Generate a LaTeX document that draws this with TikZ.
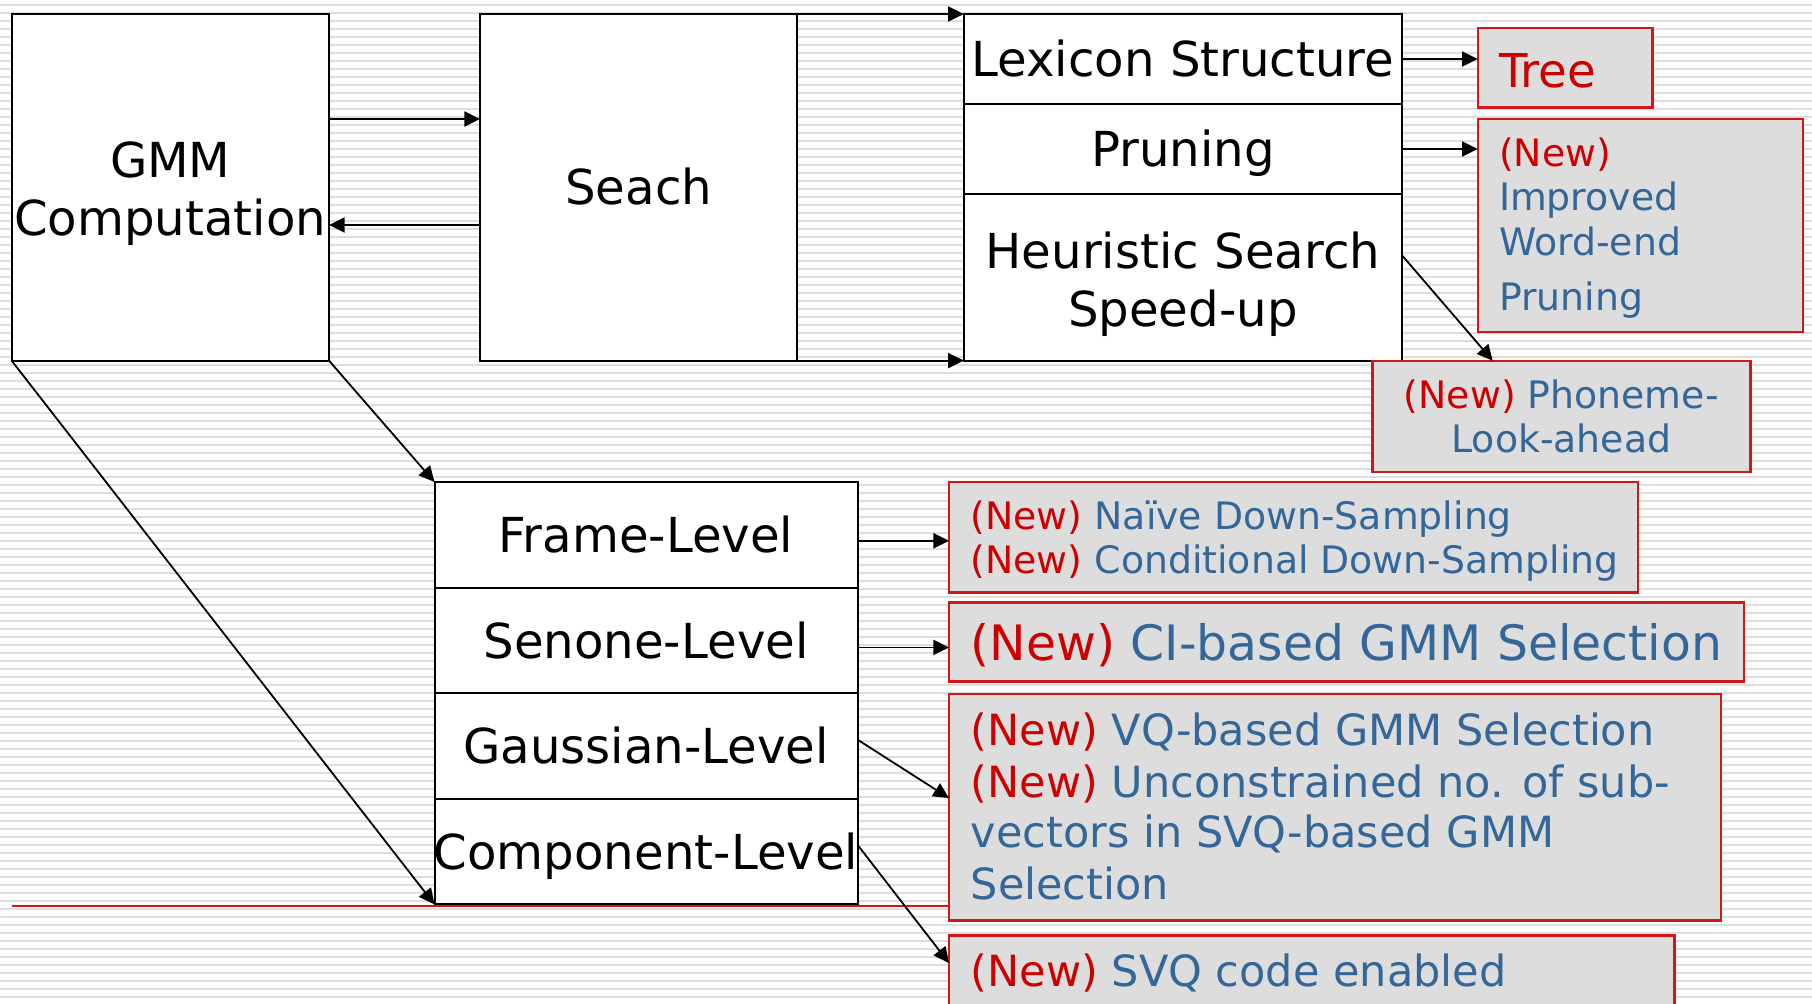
\documentclass[tikz,border=0pt]{standalone}
\usepackage{fontspec}
\setmainfont{DejaVu Sans}
\usetikzlibrary{arrows.meta}
\definecolor{boxred}{RGB}{208,24,24}
\definecolor{txtred}{RGB}{204,0,0}
\definecolor{txtblue}{RGB}{51,102,153}
\definecolor{boxgray}{RGB}{221,221,221}
\definecolor{stripegray}{RGB}{222,222,222}
\newcommand{\nw}{\textcolor{txtred}{(New)}}
\begin{document}
\begin{tikzpicture}[x=0.5pt,y=-0.5pt,
  blk/.style={draw=black, fill=white, line width=1pt, inner sep=0pt, outer sep=0pt, anchor=north west},
  btxt/.style={anchor=base, inner sep=0pt, outer sep=0pt, font=\fontsize{24.1}{29}\selectfont},
  nbox/.style={draw=boxred, fill=boxgray, line width=1.2pt, inner sep=0pt, outer sep=0pt, anchor=north west},
  tl/.style={anchor=base west, inner sep=0pt, outer sep=0pt, text=txtblue},
  tc/.style={anchor=base, inner sep=0pt, outer sep=0pt, text=txtblue},
  arr/.style={line width=0.9pt, -{Triangle[length=7.8pt,width=7.5pt]}},
  stripe/.style={line width=1pt, draw=stripegray},
  redline/.style={line width=0.8pt, draw=boxred}]
\useasboundingbox (0,0) rectangle (1812,1003);
\clip (0,0) rectangle (1812,1003);
\fill[white] (0,0) rectangle (1812,1003);
\foreach \y in {5,13,...,1003} \draw[stripe] (0,\y) -- (1812,\y);

% red rule
\coordinate (rl) at (11.6,906);

% black boxes
\node[blk, minimum width=158.7pt, minimum height=173.3pt] (gmm) at (11.6,14) {};
\node[blk, minimum width=158.7pt, minimum height=173.3pt] (seach) at (480,14) {};
\node[blk, minimum width=219.1pt, minimum height=45pt] (lex) at (963.8,14) {};
\node[blk, minimum width=219.1pt, minimum height=45pt] (prun) at (963.8,104) {};
\node[blk, minimum width=219.1pt, minimum height=83.3pt] (heur) at (963.8,194) {};

\node[blk, minimum width=211.5pt, minimum height=52.8pt] (frame) at (434.5,482) {};
\node[blk, minimum width=211.5pt, minimum height=52.8pt] (senone) at (434.5,587.6) {};
\node[blk, minimum width=211.5pt, minimum height=52.8pt] (gauss) at (434.5,693.2) {};
\node[blk, minimum width=211.5pt, minimum height=52.8pt] (comp) at (434.5,798.8) {};

% texts in black boxes
\node[btxt] (gmmt1) at ([yshift=5.15pt]gmm.center) {GMM};
\node[btxt] (gmmt2) at ([yshift=-23.85pt]gmm.center) {Computation};
\node[btxt] (seacht) at ([yshift=-8.8pt]seach.center) {Seach};
\node[btxt] (lext) at ([yshift=-8.8pt]lex.center) {Lexicon Structure};
\node[btxt] (prunt) at ([yshift=-8.8pt]prun.center) {Pruning};
\node[btxt] (heurt1) at ([yshift=4.65pt]heur.center) {Heuristic Search};
\node[btxt] (heurt2) at ([yshift=-24.35pt]heur.center) {Speed-up};
\node[btxt] (framet) at ([yshift=-8.8pt]frame.center) {Frame-Level};
\node[btxt] (senonet) at ([yshift=-8.8pt]senone.center) {Senone-Level};
\node[btxt] (gausst) at ([yshift=-8.8pt]gauss.center) {Gaussian-Level};
\node[btxt] (compt) at ([yshift=-8.8pt]comp.center) {Component-Level};

% gray boxes
\node[nbox, minimum width=87.4pt, minimum height=39.65pt] (tree) at (1477.7,28) {};
\node[nbox, minimum width=162.5pt, minimum height=106.5pt] (pnew) at (1477.7,119) {};
\node[nbox, minimum width=189pt, minimum height=55.5pt] (phon) at (1372.3,360.7) {};
\node[nbox, minimum width=344.4pt, minimum height=55.3pt] (fnew) at (949,482) {};
\node[nbox, minimum width=397.4pt, minimum height=39.65pt] (cinew) at (949,602.3) {};
\draw[redline] (rl) -- (rl -| fnew.west);
\node[nbox, minimum width=385.85pt, minimum height=113.4pt] (vq) at (949,693.7) {};
\node[nbox, minimum width=362.7pt, minimum height=50pt] (svq) at (949,935.4) {};

% texts in gray boxes
\node[tl, text=txtred, font=\fontsize{23.3}{28}\selectfont] (ttree) at (1499,87) {Tree};
\begin{scope}[font=\fontsize{18.9}{22}\selectfont]
\node[tl] (tp1) at (1499,166.7) {\nw};
\node[tl] (tp2) at (1499,210.7) {Improved};
\node[tl] (tp3) at (1499,255) {Word-end};
\node[tl] (tp4) at (1499,310.7) {Pruning};
\node[tc] (th1) at (1561.3,408.3) {\nw{} Phoneme-};
\node[tc] (th2) at (1561.3,452.3) {Look-ahead};
\node[tl] (tf1) at (970.7,529.3) {\nw{} Naïve Down-Sampling};
\node[tl] (tf2) at (970.7,573.6) {\nw{} Conditional Down-Sampling};
\end{scope}
\node[tl, font=\fontsize{24.4}{29}\selectfont] (tci) at (970.7,660) {\nw{} CI-based GMM Selection};
\begin{scope}[font=\fontsize{21.5}{26}\selectfont]
\node[tl] (tv1) at (970.7,745.7) {\nw{} VQ-based GMM Selection};
\node[tl] (tv2) at (970.7,797) {\nw{} Unconstrained no. of sub-};
\node[tl] (tv3) at (970.7,847) {vectors in SVQ-based GMM};
\node[tl] (tv4) at (970.7,899) {Selection};
\node[tl] (ts1) at (970.7,986) {\nw{} SVQ code enabled};
\end{scope}

% connectors
\draw[arr] ([yshift=-52.5pt]gmm.north east) -- ([yshift=-52.5pt]seach.north west);
\draw[arr] ([yshift=-105.5pt]seach.north west) -- ([yshift=-105.5pt]gmm.north east);
\draw[arr] (seach.north east) -- (lex.north west);
\draw[arr] (seach.south east) -- (heur.south west);
\draw[arr] (lex.east) -- (lex.east -| tree.west);
\draw[arr] (prun.east) -- (prun.east -| pnew.west);
\draw[arr] ([yshift=11pt]heur.east) -- ([xshift=60.2pt]phon.north west);
\draw[arr] (gmm.south east) -- (frame.north west);
\draw[arr] (gmm.south west) -- (comp.south west);
\draw[arr] ([yshift=-3pt]frame.east) -- ([yshift=-3pt]frame.east -| fnew.west);
\draw[arr] ([yshift=-3.5pt]senone.east) -- ([yshift=-3.5pt]senone.east -| cinew.west);
\draw[arr] ([yshift=3.2pt]gauss.east) -- ([yshift=4.5pt]vq.west);
\draw[arr] ([yshift=3.4pt]comp.east) -- ([yshift=-13.8pt]svq.north west);
\end{tikzpicture}
\end{document}
